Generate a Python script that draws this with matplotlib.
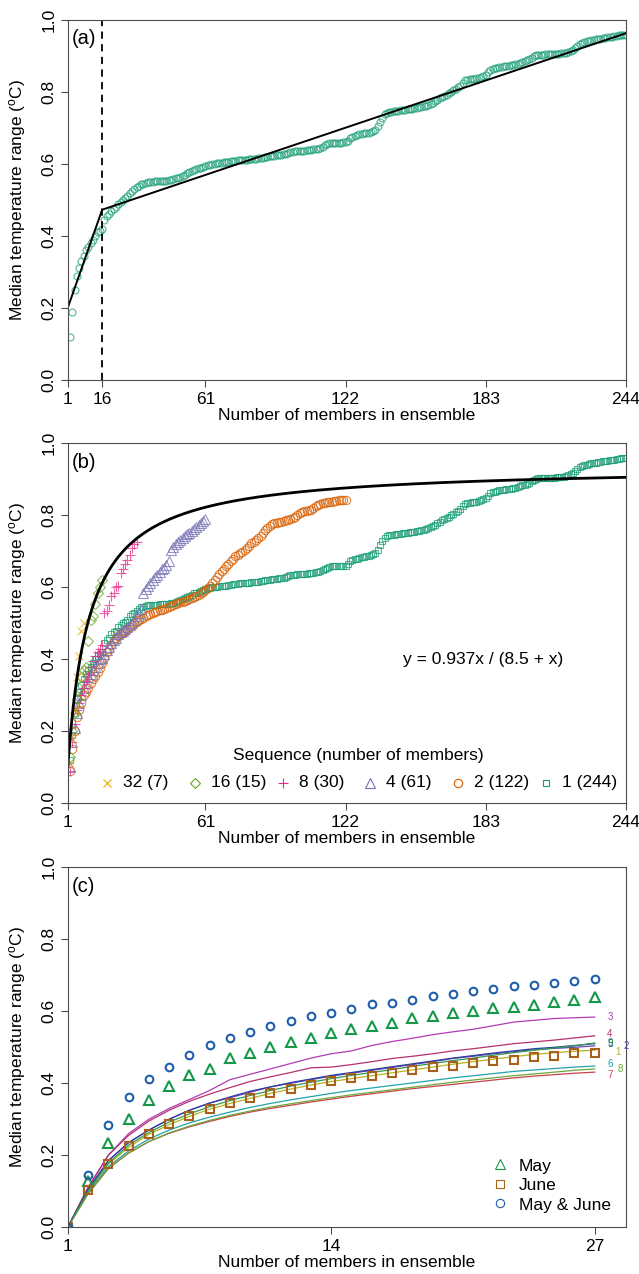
import numpy as np
import matplotlib
matplotlib.use("Agg")
import matplotlib.pyplot as plt
from matplotlib.lines import Line2D

plt.rcParams['font.family'] = ['Liberation Sans', 'DejaVu Sans']
plt.rcParams['mathtext.fontset'] = 'custom'
plt.rcParams['mathtext.rm'] = 'Liberation Sans'
plt.rcParams['mathtext.it'] = 'Liberation Sans:italic'

# ---------------- data ----------------
# sequence 1 (all 244 members), median range for n = 2 .. 244
seq1 = [
    0.12, 0.19, 0.25, 0.29, 0.31, 0.33, 0.345, 0.36, 0.37,
    0.38, 0.39, 0.40, 0.41, 0.415, 0.42, 0.445, 0.455, 0.46, 0.47,
    0.475, 0.48, 0.49, 0.495, 0.50, 0.505, 0.51, 0.52, 0.525, 0.53,
    0.535, 0.54, 0.545, 0.545, 0.548, 0.55, 0.55, 0.551, 0.552, 0.552,
    0.553, 0.553, 0.554, 0.554, 0.555, 0.556, 0.557, 0.56, 0.562, 0.565,
    0.567, 0.57, 0.574, 0.577, 0.58, 0.583, 0.585, 0.588, 0.59, 0.593,
    0.595, 0.597, 0.598, 0.60, 0.601, 0.602, 0.603, 0.604, 0.605, 0.605,
    0.606, 0.607, 0.608, 0.609, 0.61, 0.611, 0.611, 0.612, 0.612, 0.613,
    0.614, 0.614, 0.615, 0.616, 0.617, 0.618, 0.619, 0.62, 0.621, 0.622,
    0.623, 0.624, 0.625, 0.626, 0.627, 0.629, 0.631, 0.633, 0.634, 0.635,
    0.636, 0.636, 0.637, 0.637, 0.638, 0.639, 0.64, 0.641, 0.642, 0.643,
    0.645, 0.648, 0.652, 0.655, 0.657, 0.658, 0.658, 0.658, 0.659, 0.659,
    0.66, 0.66, 0.665, 0.672, 0.676, 0.678, 0.68, 0.682, 0.684, 0.685,
    0.686, 0.687, 0.689, 0.692, 0.695, 0.705, 0.718, 0.728, 0.738, 0.742,
    0.744, 0.745, 0.746, 0.747, 0.748, 0.749, 0.75, 0.751, 0.752, 0.753,
    0.754, 0.755, 0.756, 0.757, 0.758, 0.76, 0.762, 0.764, 0.767, 0.77,
    0.774, 0.778, 0.782, 0.786, 0.789, 0.792, 0.796, 0.80, 0.805, 0.809,
    0.813, 0.818, 0.825, 0.832, 0.834, 0.835, 0.836, 0.837, 0.838, 0.84,
    0.842, 0.845, 0.848, 0.855, 0.861, 0.864, 0.866, 0.868, 0.869, 0.87,
    0.871, 0.872, 0.873, 0.874, 0.875, 0.877, 0.879, 0.881, 0.883, 0.885,
    0.888, 0.891, 0.895, 0.899, 0.902, 0.903, 0.904, 0.904, 0.905, 0.905,
    0.905, 0.905, 0.905, 0.906, 0.906, 0.907, 0.907, 0.909, 0.912, 0.915,
    0.917, 0.922, 0.928, 0.933, 0.937, 0.94, 0.941, 0.942, 0.944, 0.945,
    0.946, 0.947, 0.948, 0.95, 0.951, 0.952, 0.953, 0.954, 0.955, 0.956,
    0.957, 0.958, 0.958, 0.958,
]

seq2 = [
    0.09, 0.15, 0.20, 0.24, 0.26, 0.28, 0.30, 0.31, 0.32,
    0.335, 0.345, 0.355, 0.365, 0.375, 0.39, 0.405, 0.42, 0.43, 0.44,
    0.45, 0.46, 0.465, 0.47, 0.475, 0.48, 0.485, 0.49, 0.495, 0.50,
    0.505, 0.51, 0.513, 0.516, 0.52, 0.523, 0.526, 0.529, 0.532, 0.534,
    0.536, 0.538, 0.54, 0.542, 0.545, 0.547, 0.55, 0.553, 0.556, 0.558,
    0.56, 0.562, 0.565, 0.568, 0.571, 0.574, 0.577, 0.58, 0.584, 0.588,
    0.592, 0.598, 0.605, 0.612, 0.62, 0.628, 0.636, 0.644, 0.652, 0.66,
    0.666, 0.672, 0.68, 0.686, 0.69, 0.694, 0.698, 0.704, 0.71, 0.716,
    0.722, 0.727, 0.732, 0.737, 0.742, 0.75, 0.758, 0.765, 0.77, 0.775,
    0.778, 0.78, 0.781, 0.782, 0.784, 0.786, 0.788, 0.79, 0.792, 0.796,
    0.80, 0.806, 0.81, 0.812, 0.813, 0.814, 0.816, 0.82, 0.825, 0.829,
    0.832, 0.834, 0.835, 0.836, 0.837, 0.838, 0.84, 0.841, 0.842, 0.843,
    0.843, 0.843,
]

seq4 = [
    0.10, 0.17, 0.21, 0.25, 0.28, 0.30, 0.32, 0.335, 0.35,
    0.36, 0.37, 0.38, 0.39, 0.40, 0.405, 0.415, 0.425, 0.435, 0.445,
    0.455, 0.46, 0.47, 0.475, 0.48, 0.485, 0.49, 0.495, 0.50, 0.51,
    0.52, 0.53, 0.54,
    0.585, 0.595, 0.605, 0.612, 0.62, 0.628, 0.635, 0.642, 0.65, 0.655,
    0.662, 0.672,
    0.705, 0.712, 0.72, 0.726, 0.732, 0.738, 0.743, 0.748, 0.752, 0.757,
    0.762, 0.768, 0.773, 0.778, 0.784, 0.79,
]

seq8 = [
    0.09, 0.17, 0.22, 0.26, 0.28, 0.30, 0.32, 0.34, 0.36,
    0.38, 0.395, 0.41, 0.42, 0.43, 0.44,
    0.53, 0.535, 0.55, 0.575, 0.585, 0.60, 0.605, 0.64, 0.65, 0.665,
    0.675, 0.69, 0.71, 0.72, 0.725,
]

seq16 = [0.13, 0.20, 0.25, 0.29, 0.32, 0.35, 0.37, 0.38, 0.45, 0.51,
         0.52, 0.555, 0.585, 0.60, 0.62]

seq32 = [0.11, 0.18, 0.26, 0.35, 0.41, 0.48, 0.50]

# broken-stick fit in (a)
seg_x = [1, 16, 244]
seg_y = [0.20, 0.473, 0.963]
break_x = 16

# saturation fit in (b): y = a x / (b + x)
fit_a = 0.937
fit_b = 8.5

# panel (c): 27 members
n27 = list(range(1, 28))
may = [0.0, 0.13, 0.235, 0.302, 0.353, 0.392, 0.422, 0.441, 0.469, 0.484,
       0.50, 0.515, 0.527, 0.54, 0.552, 0.56, 0.568, 0.581, 0.588, 0.594,
       0.601, 0.608, 0.612, 0.618, 0.626, 0.631, 0.641]
june = [0.0, 0.103, 0.177, 0.225, 0.26, 0.288, 0.31, 0.329, 0.345, 0.36,
        0.373, 0.384, 0.395, 0.406, 0.414, 0.421, 0.43, 0.437, 0.444, 0.449,
        0.456, 0.462, 0.466, 0.473, 0.476, 0.483, 0.485]
may_june = [0.0, 0.146, 0.285, 0.362, 0.411, 0.445, 0.48, 0.506, 0.526, 0.542,
            0.559, 0.572, 0.586, 0.596, 0.607, 0.619, 0.624, 0.632, 0.642, 0.648,
            0.656, 0.661, 0.669, 0.674, 0.679, 0.683, 0.69]

line1 = [0, 0.1, 0.175, 0.222, 0.258, 0.285, 0.308, 0.328, 0.344, 0.358, 0.372, 0.384, 0.395, 0.405,
         0.413, 0.421, 0.429, 0.437, 0.445, 0.453, 0.46, 0.467, 0.474, 0.48, 0.485, 0.489, 0.492]
line2 = [0, 0.105, 0.185, 0.235, 0.27, 0.30, 0.325, 0.345, 0.36, 0.375, 0.39, 0.40, 0.41, 0.42,
         0.428, 0.436, 0.444, 0.452, 0.46, 0.469, 0.475, 0.482, 0.488, 0.493, 0.497, 0.50, 0.504]
line3 = [0, 0.11, 0.20, 0.26, 0.30, 0.33, 0.355, 0.38, 0.41, 0.425, 0.44, 0.455, 0.47, 0.482,
         0.49, 0.505, 0.516, 0.525, 0.535, 0.543, 0.55, 0.56, 0.57, 0.575, 0.58, 0.582, 0.584]
line4 = [0, 0.11, 0.20, 0.255, 0.295, 0.325, 0.35, 0.37, 0.388, 0.405, 0.418, 0.43, 0.443, 0.445,
         0.452, 0.46, 0.469, 0.475, 0.482, 0.49, 0.496, 0.503, 0.51, 0.515, 0.52, 0.526, 0.532]
line5 = [0, 0.105, 0.185, 0.235, 0.27, 0.30, 0.325, 0.345, 0.362, 0.378, 0.39, 0.402, 0.412, 0.422,
         0.43, 0.438, 0.446, 0.454, 0.462, 0.47, 0.477, 0.484, 0.49, 0.496, 0.50, 0.505, 0.51]
line6 = [0, 0.095, 0.168, 0.212, 0.245, 0.27, 0.29, 0.306, 0.32, 0.333, 0.344, 0.354, 0.363, 0.372,
         0.38, 0.387, 0.394, 0.401, 0.408, 0.415, 0.421, 0.427, 0.433, 0.437, 0.441, 0.445, 0.448]
line7 = [0, 0.093, 0.163, 0.206, 0.238, 0.261, 0.279, 0.294, 0.308, 0.32, 0.33, 0.339, 0.348, 0.356,
         0.364, 0.371, 0.378, 0.385, 0.391, 0.397, 0.403, 0.409, 0.415, 0.42, 0.424, 0.428, 0.431]
line8 = [0, 0.093, 0.163, 0.206, 0.238, 0.262, 0.281, 0.297, 0.311, 0.323, 0.334, 0.343, 0.352, 0.36,
         0.368, 0.375, 0.382, 0.389, 0.396, 0.403, 0.409, 0.415, 0.421, 0.426, 0.431, 0.436, 0.44]
line9 = [0, 0.1, 0.178, 0.228, 0.263, 0.292, 0.315, 0.335, 0.352, 0.366, 0.38, 0.392, 0.403, 0.413,
         0.422, 0.43, 0.438, 0.447, 0.455, 0.463, 0.47, 0.478, 0.485, 0.492, 0.498, 0.504, 0.512]

c_lines = [line1, line2, line3, line4, line5, line6, line7, line8, line9]
c_line_names = ['1', '2', '3', '4', '5', '6', '7', '8', '9']
c_line_colors = ['#B5B31E', '#6B3FB8', '#B23BB5', '#B5306F', '#2B3F9E',
                 '#22A3A8', '#C8414C', '#6AA83A', '#2E9A4E']
# label offsets (x, y in data units) to keep the end labels readable
c_label_dx = [1.15, 1.55, 0.75, 0.75, 0.75, 0.75, 0.75, 1.25, 0.75]
c_label_dy = [-0.006, 0.0, 0.0, 0.005, 0.0, 0.005, -0.008, 0.0, 0.0]

# ---------------- style ----------------
FS = 12.5
AXCOL = '#4d4d4d'
W, H = 639, 1274
dark2 = {'green': '#1B9E77', 'orange': '#D95F02', 'purple': '#7570B3',
         'pink': '#E7298A', 'lime': '#66A61E', 'yellow': '#E6AB02'}
ylab = 'Median temperature range ($^{\\mathrm{o}}$C)'
xlab = 'Number of members in ensemble'

fig = plt.figure(figsize=(W / 100, H / 100), dpi=100)


def make_ax(top_px, bottom_px):
    left, right = 67.7, 625.7
    ax = fig.add_axes([left / W, 1 - bottom_px / H, (right - left) / W, (bottom_px - top_px) / H])
    for s in ax.spines.values():
        s.set_color(AXCOL)
        s.set_linewidth(0.8)
    ax.tick_params(axis='both', direction='out', length=5, width=0.8, color=AXCOL,
                   labelsize=FS, pad=3.5)
    ax.tick_params(axis='y', labelrotation=90, pad=3)
    ax.set_ylim(0, 1)
    ax.set_yticks([0, 0.2, 0.4, 0.6, 0.8, 1.0])
    ax.set_yticklabels(['0.0', '0.2', '0.4', '0.6', '0.8', '1.0'])
    for lbl in ax.get_yticklabels():
        lbl.set_va('center')
    ax.set_ylabel(ylab, fontsize=FS)
    ax.yaxis.set_label_coords(-0.072, 0.5)
    ax.set_xlabel(xlab, fontsize=FS)
    ax.xaxis.set_label_coords(0.5, -0.078)
    return ax


# ---------------- (a) ----------------
ax = make_ax(20.0, 380.0)
x1 = np.arange(2, 2 + len(seq1))
ax.plot(x1, seq1, ls='none', marker='o', ms=5, mfc='none', mec=dark2['green'], mew=0.8, alpha=0.75)
ax.plot(seg_x, seg_y, color='black', lw=1.4)
ax.axvline(break_x, color='black', lw=1.3, ls=(0, (4, 3)))
ax.set_xlim(1, 244)
ax.set_xticks([1, 16, 61, 122, 183, 244])
ax.text(0.008, 0.975, '(a)', transform=ax.transAxes, ha='left', va='top', fontsize=14.5)

# ---------------- (b) ----------------
ax = make_ax(443.3, 803.3)
series_b = [
    (seq1, 's', 5.0, dark2['green'], '1 (244)'),
    (seq2, 'o', 6.0, dark2['orange'], '2 (122)'),
    (seq4, '^', 6.5, dark2['purple'], '4 (61)'),
    (seq8, '+', 7.0, dark2['pink'], '8 (30)'),
    (seq16, 'D', 5.0, dark2['lime'], '16 (15)'),
    (seq32, 'x', 5.5, dark2['yellow'], '32 (7)'),
]
for vals, mk, ms, col, lab in series_b:
    xs = np.arange(2, 2 + len(vals))
    ax.plot(xs, vals, ls='none', marker=mk, ms=ms, mfc='none', mec=col, mew=0.8, alpha=0.75)
xf = np.linspace(1, 244, 600)
ax.plot(xf, fit_a * xf / (fit_b + xf), color='black', lw=2.0)
ax.set_xlim(1, 244)
ax.set_xticks([1, 61, 122, 183, 244])
ax.text(0.745, 0.40, 'y = %.3fx / (%.1f + x)' % (fit_a, fit_b), transform=ax.transAxes,
        ha='center', va='center', fontsize=FS)
ax.text(0.008, 0.973, '(b)', transform=ax.transAxes, ha='left', va='top', fontsize=14.5)

# legend laid out in evenly spaced slots, as in the original
ax.text(0.520, 0.134, 'Sequence (number of members)', transform=ax.transAxes,
        ha='center', va='center', fontsize=FS)
slot_x = [0.0704, 0.2282, 0.3858, 0.5418, 0.6994, 0.8571]
for sx, (vals, mk, ms, col, lab) in zip(slot_x, series_b[::-1]):
    ax.plot([sx], [0.0564], transform=ax.transAxes, ls='none', marker=mk, ms=ms,
            mfc='none', mec=col, mew=0.8, clip_on=False)
    ax.text(sx + 0.0287, 0.0564, lab, transform=ax.transAxes, ha='left', va='center',
            fontsize=FS)

# ---------------- (c) ----------------
ax = make_ax(867.3, 1227.3)
for vals, col, name, dx, dy in zip(c_lines, c_line_colors, c_line_names, c_label_dx, c_label_dy):
    ax.plot(n27, vals, color=col, lw=0.9)
    ax.text(n27[-1] + dx, vals[-1] + dy, name, color=col, fontsize=7, ha='center', va='center')
ax.plot(n27, may, ls='none', marker='^', ms=6.5, mfc='none', mec='#16984B', mew=1.5)
ax.plot(n27, june, ls='none', marker='s', ms=5.5, mfc='none', mec='#A8621E', mew=1.5)
ax.plot(n27, may_june, ls='none', marker='o', ms=5.5, mfc='none', mec='#1F5EAA', mew=1.5)
ax.set_xlim(1, 28.53)
ax.set_xticks([1, 14, 27])
ax.text(0.008, 0.973, '(c)', transform=ax.transAxes, ha='left', va='top', fontsize=14.5)
handles = [Line2D([0], [0], ls='none', marker='^', ms=7, mfc='none', mec='#16984B', mew=0.8),
           Line2D([0], [0], ls='none', marker='s', ms=6, mfc='none', mec='#A8621E', mew=0.8),
           Line2D([0], [0], ls='none', marker='o', ms=6, mfc='none', mec='#1F5EAA', mew=0.8)]
ax.legend(handles, ['May', 'June', 'May & June'], loc='lower right', frameon=False,
          fontsize=FS, handlelength=1.0, handletextpad=0.6, labelspacing=0.25,
          borderaxespad=0.45)

fig.savefig('out.png', dpi=100)
